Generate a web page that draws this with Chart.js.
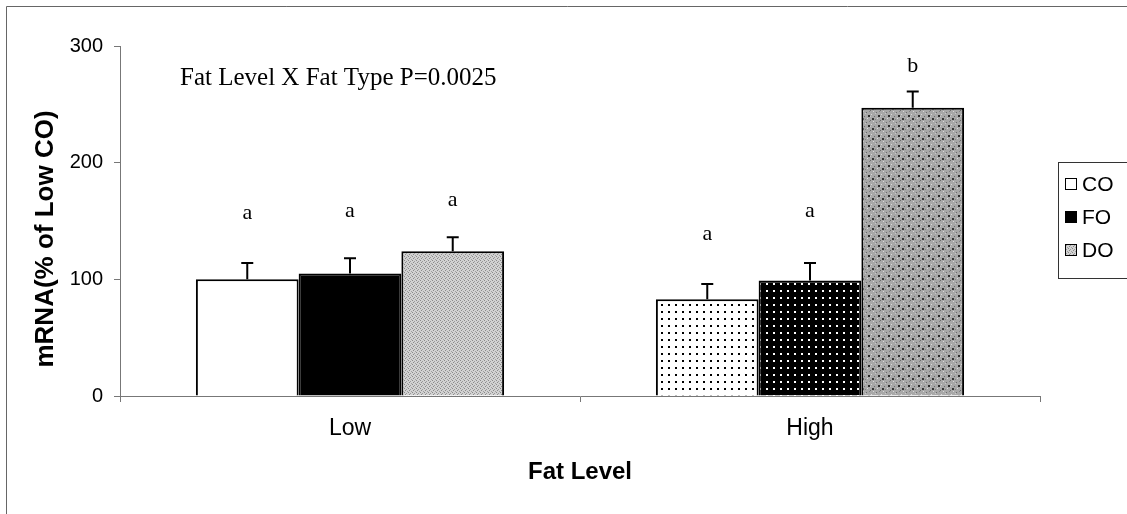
<!DOCTYPE html>
<html>
<head>
<meta charset="utf-8">
<script src="https://cdn.jsdelivr.net/npm/chart.js@4/dist/chart.umd.min.js"></script>
<style>
  html, body { margin: 0; padding: 0; background: #fff; }
  #wrap { width: 1127px; height: 514px; position: relative; }
</style>
</head>
<body>
<div id="wrap"><canvas id="chart"></canvas></div>
<script>
const fatLevels = ["Low", "High"];
const fatTypes = ["CO", "FO", "DO"];

const coValues = [100, 83];
const foValues = [105, 99];
const doValues = [124, 247];

const coErrors = [14, 13];
const foErrors = [13, 15];
const doErrors = [12, 14];

// significance letters and the height they sit at
const coLetters = ["a", "a"];
const foLetters = ["a", "a"];
const doLetters = ["a", "b"];
const coLetterY = [157, 139];
const foLetterY = [158, 158];
const doLetterY = [168, 283];

const yTicks = [0, 100, 200, 300];
const yTitle = "mRNA(% of Low CO)";
const noteText = "Fat Level X Fat Type P=0.0025";

function makePattern(size, bg, dots) {
    const c = document.createElement("canvas");
    c.width = size;
    c.height = size;
    const g = c.getContext("2d");
    g.fillStyle = bg;
    g.fillRect(0, 0, size, size);
    dots.forEach((d) => {
        g.fillStyle = d[3];
        g.fillRect(d[0], d[1], d[2], d[2]);
    });
    return g.createPattern(c, "repeat");
}

const lowDO = makePattern(4, "#d2d2d2", [
    [0, 0, 1, "#8a8a8a"], [2, 1, 1, "#9a9a9a"], [1, 2, 1, "#8a8a8a"], [3, 3, 1, "#a0a0a0"],
]);
const highCO = makePattern(7, "#ffffff", [[3, 3, 2, "#000"]]);
const highFO = makePattern(7, "#000000", [[3, 3, 2, "#fff"]]);
const highDO = makePattern(10, "#a8a8a8", [
    [0, 0, 1, "#6a6a6a"], [3, 1, 1, "#d8d8d8"], [6, 2, 1, "#6a6a6a"], [1, 4, 1, "#d8d8d8"],
    [8, 5, 2, "#2a2a2a"], [4, 6, 1, "#6a6a6a"], [2, 8, 2, "#333"], [7, 8, 1, "#d8d8d8"],
    [9, 1, 1, "#808080"], [5, 9, 1, "#808080"], [5, 3, 1, "#c8c8c8"], [0, 6, 1, "#c8c8c8"],
]);

const errorsByType = [coErrors, foErrors, doErrors];
const lettersByType = [coLetters, foLetters, doLetters];
const letterYByType = [coLetterY, foLetterY, doLetterY];
const legendFills = ["#ffffff", "#000000", lowDO];

const barExtras = {
    id: "barExtras",
    afterDatasetsDraw(chart) {
        const ctx = chart.ctx;
        const y = chart.scales.y;
        ctx.save();
        chart.data.datasets.forEach((ds, i) => {
            const meta = chart.getDatasetMeta(i);
            meta.data.forEach((bar, j) => {
                const top = y.getPixelForValue(ds.data[j] + errorsByType[i][j]);
                ctx.strokeStyle = "#000";
                ctx.lineWidth = 2;
                ctx.beginPath();
                ctx.moveTo(bar.x, bar.y);
                ctx.lineTo(bar.x, top);
                ctx.moveTo(bar.x - 6, top);
                ctx.lineTo(bar.x + 6, top);
                ctx.stroke();

                ctx.fillStyle = "#000";
                ctx.font = "22px 'Liberation Serif'";
                ctx.textAlign = "center";
                ctx.textBaseline = "middle";
                ctx.fillText(lettersByType[i][j], bar.x, y.getPixelForValue(letterYByType[i][j]));
            });
        });
        ctx.restore();
    },
    afterDraw(chart) {
        const ctx = chart.ctx;
        ctx.save();
        // outer frame (only top/left edges fall inside the picture)
        ctx.strokeStyle = "#666";
        ctx.lineWidth = 1;
        ctx.beginPath();
        ctx.moveTo(6.5, 520);
        ctx.lineTo(6.5, 6.5);
        ctx.lineTo(1130, 6.5);
        ctx.stroke();

        // y axis title, sits a bit below the plot centre in the original
        ctx.fillStyle = "#000";
        ctx.save();
        ctx.translate(46, 239);
        ctx.rotate(-Math.PI / 2);
        ctx.font = "bold 26px 'Liberation Sans'";
        ctx.textAlign = "center";
        ctx.textBaseline = "middle";
        ctx.fillText(yTitle, 0, 0);
        ctx.restore();

        // note
        ctx.font = "25px 'Liberation Serif'";
        ctx.textAlign = "left";
        ctx.textBaseline = "alphabetic";
        ctx.fillText(noteText, 180, 85);

        // legend
        const lx = 1058, ly = 162;
        ctx.strokeStyle = "#333";
        ctx.strokeRect(lx + 0.5, ly + 0.5, 90, 116);
        ctx.font = "21px 'Liberation Sans'";
        ctx.textBaseline = "middle";
        fatTypes.forEach((t, i) => {
            const cy = ly + 22 + i * 33;
            ctx.fillStyle = legendFills[i];
            ctx.fillRect(lx + 7, cy - 6, 12, 12);
            ctx.strokeStyle = "#000";
            ctx.lineWidth = 1;
            ctx.strokeRect(lx + 7.5, cy - 5.5, 11, 11);
            ctx.fillStyle = "#000";
            ctx.fillText(t, lx + 24, cy + 1);
        });
        ctx.restore();
    },
};

function makeDataset(i, values, fills) {
    return {
        label: fatTypes[i],
        data: values,
        backgroundColor: fills,
        borderColor: "#000",
        borderWidth: 2,
        borderSkipped: "bottom",
        categoryPercentage: 0.67,
        barPercentage: 1.0,
    };
}

new Chart(document.getElementById("chart"), {
    type: "bar",
    data: {
        labels: fatLevels,
        datasets: [
            makeDataset(0, coValues, ["#ffffff", highCO]),
            makeDataset(1, foValues, ["#000000", highFO]),
            makeDataset(2, doValues, [lowDO, highDO]),
        ],
    },
    options: {
        responsive: true,
        maintainAspectRatio: false,
        animation: false,
        layout: { padding: { top: 46, right: 87, left: 0, bottom: 0 } },
        plugins: {
            legend: { display: false },
            tooltip: { enabled: false },
        },
        scales: {
            x: {
                afterFit: (s) => { s.height = 118; },
                grid: { drawOnChartArea: false, tickLength: 6, color: "#777" },
                border: { color: "#777", width: 1 },
                ticks: { color: "#000", font: { family: "Liberation Sans", size: 23 }, padding: 13 },
                title: {
                    display: true,
                    text: "Fat Level",
                    color: "#000",
                    font: { family: "Liberation Sans", size: 24, weight: "bold" },
                    padding: { top: 0, bottom: 27 },
                },
            },
            y: {
                min: 0,
                max: 300,
                afterFit: (s) => { s.width = 120; },
                afterBuildTicks: (s) => { s.ticks = yTicks.map((v) => ({ value: v })); },
                grid: { drawOnChartArea: false, tickLength: 6, color: "#777" },
                border: { color: "#777", width: 1 },
                ticks: { color: "#000", font: { family: "Liberation Sans", size: 20 }, padding: 11 },
            },
        },
    },
    plugins: [barExtras],
});
</script>
</body>
</html>
